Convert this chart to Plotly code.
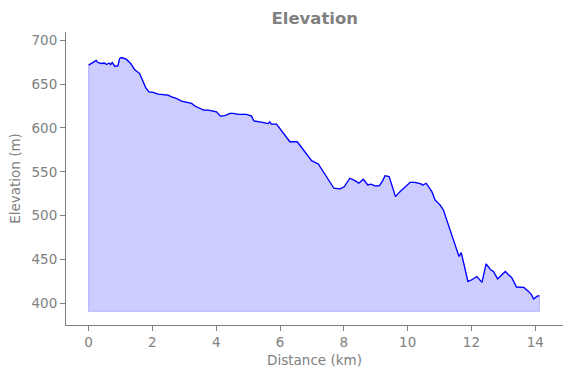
import plotly.graph_objects as go

# Distance along route (km) and elevation (m)
distance_km = [0.0, 0.05, 0.14, 0.24, 0.29, 0.4, 0.5, 0.56, 0.64, 0.69, 0.74, 0.82, 0.92, 0.97, 1.03,
               1.18, 1.32, 1.44, 1.6, 1.69, 1.79, 1.89, 2.02, 2.18, 2.33, 2.49, 2.6, 2.75, 2.91, 3.07,
               3.23, 3.33, 3.48, 3.61, 3.75, 3.9, 4.01, 4.13, 4.27, 4.43, 4.53, 4.69, 4.95, 5.11, 5.18,
               5.37, 5.63, 5.68, 5.73, 5.89, 6.10, 6.31, 6.54, 6.78, 6.99, 7.2, 7.46, 7.69, 7.88, 8.01,
               8.19, 8.35, 8.47, 8.61, 8.75, 8.85, 8.98, 9.11, 9.22, 9.29, 9.42, 9.62, 9.76, 10.08, 10.23,
               10.44, 10.47, 10.58, 10.76, 10.86, 11.02, 11.12, 11.33, 11.59, 11.61, 11.68, 11.75, 11.89,
               12.01, 12.17, 12.33, 12.46, 12.57, 12.61, 12.69, 12.82, 13.06, 13.27, 13.41, 13.64, 13.79,
               13.88, 13.95, 14.05, 14.13]
elevation_m = [671.6, 672.7, 674, 677, 674.6, 673.5, 674, 672.3, 674, 672.3, 674.6, 670.4, 670.8, 679, 680.3,
               678.4, 673.5, 666.7, 662, 654.5, 646, 641, 640.5, 638.6, 638, 637.4, 635.5, 633.7, 630.6, 629,
               628, 625, 623, 620.4, 620.4, 619.6, 618.4, 613.5, 614, 616.6, 616.6, 615.5, 615.5, 613.5, 608,
               607, 605, 607, 604.4, 604.4, 593.8, 584.3, 584.3, 573, 562.7, 559, 544.5, 531.3, 530.5, 533,
               542.7, 540, 537, 541.5, 535, 536, 534, 534, 540, 545.6, 544.5, 521.7, 527.4, 538, 538,
               536, 534.7, 537, 527.4, 518, 512, 506.6, 483.8, 455.4, 453.5, 458, 446, 425,
               427, 430.7, 424, 445, 440, 438, 436.4, 428, 436.4, 429, 418.7, 418.2, 413.7,
               410, 405, 408, 408.8]
fill_base_m = 391

x_ticks = [0, 2, 4, 6, 8, 10, 12, 14]
y_ticks = [400, 450, 500, 550, 600, 650, 700]

GRAY = "#808080"
FONT = "DejaVu Sans"

poly_x = distance_km + [distance_km[-1], distance_km[0], distance_km[0]]
poly_y = elevation_m + [fill_base_m, fill_base_m, elevation_m[0]]

fig = go.Figure()
fig.add_trace(go.Scatter(
    x=poly_x, y=poly_y, mode="lines", fill="toself",
    fillcolor="rgba(0,0,255,0.2)", line=dict(color="rgba(0,0,255,0.2)", width=1.2),
    hoverinfo="skip", showlegend=False,
))
fig.add_trace(go.Scatter(
    x=distance_km, y=elevation_m, mode="lines",
    line=dict(color="#0000ff", width=1.3), showlegend=False,
))

fig.update_layout(
    width=571, height=378,
    margin=dict(l=66, r=8, t=32, b=53),
    paper_bgcolor="white", plot_bgcolor="white",
    font=dict(family=FONT, size=13.5, color=GRAY),
    title=dict(text="<b>Elevation</b>", x=0.5513, xanchor="center", y=0.952, yanchor="middle",
               font=dict(family=FONT, size=16.5, color=GRAY)),
)
fig.update_xaxes(
    range=[-0.708, 14.87], tickvals=x_ticks, showgrid=False, zeroline=False,
    showline=True, linecolor=GRAY, linewidth=1.1, ticks="outside", ticklen=5, tickcolor=GRAY,
    tickfont=dict(family=FONT, size=13.5, color=GRAY),
    title=dict(text="Distance (km)", font=dict(family=FONT, size=13.5, color=GRAY), standoff=6),
    automargin=False,
)
fig.update_yaxes(
    range=[375.4, 709.4], tickvals=y_ticks, showgrid=False, zeroline=False,
    showline=True, linecolor=GRAY, linewidth=1.1, ticks="outside", ticklen=5, tickcolor=GRAY,
    tickfont=dict(family=FONT, size=13.5, color=GRAY),
    title=dict(text="Elevation (m)", font=dict(family=FONT, size=13.5, color=GRAY), standoff=7),
    automargin=False,
)

fig.write_html("out.html", config={"displayModeBar": False},
               post_script="document.body.style.margin='0px';")
